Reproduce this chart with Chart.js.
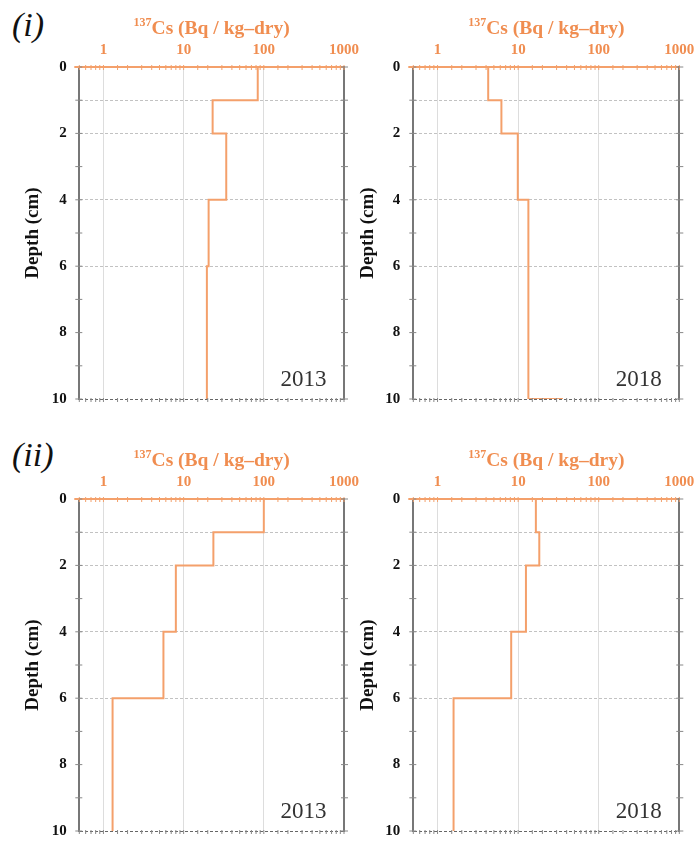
<!DOCTYPE html>
<html>
<head>
<meta charset="utf-8">
<script src="https://cdn.jsdelivr.net/npm/chart.js@4.4.1/dist/chart.umd.min.js"></script>
<style>
  html, body { margin: 0; padding: 0; background: #ffffff; }
  body { width: 697px; height: 841px; position: relative; overflow: hidden; }
  canvas { position: absolute; }
  .plabel { position: absolute; font-family: 'Liberation Serif', serif; font-style: italic; font-size: 34px; color: #111; line-height: 1; }
</style>
</head>
<body>
<div class="plabel" style="left:12px; top:8px;">(i)</div>
<div class="plabel" style="left:12px; top:438px;">(ii)</div>
<canvas id="c1" width="372" height="409" style="left:0px; top:0px;"></canvas>
<canvas id="c2" width="349" height="409" style="left:348px; top:0px;"></canvas>
<canvas id="c3" width="372" height="409" style="left:0px; top:432px;"></canvas>
<canvas id="c4" width="349" height="409" style="left:348px; top:432px;"></canvas>
<script>
// ---- data ----
const depthBounds = [0, 1, 2, 4, 6, 10];          // layer boundaries, cm
const cs137_i_2013  = [84, 23, 34, 20.5, 19.5];   // Bq/kg-dry per layer
const cs137_i_2018  = [4.25, 6.2, 9.9, 13.4, 13.4];
const cs137_i_2018_below = 36;                    // layer starting at 10 cm (only its top edge is visible)
const cs137_ii_2013 = [100, 23.5, 8.0, 5.6, 1.3];
const cs137_ii_2018 = [16.6, 18.3, 12.5, 8.2, 1.58];
const yearLabels = ['2013', '2018', '2013', '2018'];
const xTickLabels = [1, 10, 100, 1000];
const yTickLabels = [0, 2, 4, 6, 8, 10];
const yGridDepths = [1, 2, 4, 6];

const ORANGE_LINE = '#F4A06B';
const ORANGE_TEXT = '#F08D50';
const AXIS_GRAY = '#777777';
const SERIF = "'Liberation Serif', 'DejaVu Serif', serif";

function stepPoints(values, below) {
  const pts = [];
  values.forEach((v, i) => {
    pts.push({ x: v, y: depthBounds[i] });
    pts.push({ x: v, y: depthBounds[i + 1] });
  });
  if (below != null) pts.push({ x: below, y: depthBounds[depthBounds.length - 1] });
  return pts;
}

const decorPlugin = {
  id: 'decor',
  afterDraw(chart) {
    const { ctx, chartArea: { left, right, top, bottom }, scales: { x, y } } = chart;
    ctx.save();
    x.ticks.forEach(t => {
      const px = x.getPixelForValue(t.value);
      if (px < left - 0.5 || px > right + 0.5) return;
      ctx.strokeStyle = ORANGE_LINE; ctx.lineWidth = 1;
      ctx.beginPath(); ctx.moveTo(px, top - 2); ctx.lineTo(px, top + 3); ctx.stroke();
      ctx.strokeStyle = '#888'; ctx.lineWidth = 1;
      ctx.beginPath(); ctx.moveTo(px, bottom - 1); ctx.lineTo(px, bottom + 3); ctx.stroke();
    });
    y.ticks.forEach(t => {
      const py = y.getPixelForValue(t.value);
      ctx.strokeStyle = '#888'; ctx.lineWidth = 1;
      ctx.beginPath(); ctx.moveTo(left - 4, py); ctx.lineTo(left + 3, py); ctx.stroke();
      ctx.beginPath(); ctx.moveTo(right - 3, py); ctx.lineTo(right + 4, py); ctx.stroke();
    });
    ctx.strokeStyle = ORANGE_LINE; ctx.lineWidth = 2;
    ctx.beginPath(); ctx.moveTo(left - 5, top); ctx.lineTo(left, top); ctx.stroke();
    // axis title with superscript
    const main = 'Cs (Bq / kg\u2013dry)';
    const sup = '137';
    ctx.fillStyle = ORANGE_TEXT;
    ctx.textBaseline = 'alphabetic';
    ctx.font = 'bold 19.5px ' + SERIF;
    const wMain = ctx.measureText(main).width;
    ctx.font = 'bold 12px ' + SERIF;
    const wSup = ctx.measureText(sup).width;
    const cx = (left + right) / 2;
    const startX = cx - (wMain + wSup) / 2;
    const base = top - 33.5;
    ctx.textAlign = 'left';
    ctx.fillText(sup, startX, base - 7.5);
    ctx.font = 'bold 19.5px ' + SERIF;
    ctx.fillText(main, startX + wSup, base);
    // year label
    ctx.fillStyle = '#333333';
    ctx.font = '23px ' + SERIF;
    ctx.textAlign = 'right';
    ctx.fillText(chart.options.plugins.decor.year, right - 17.5, bottom - 13);
    ctx.restore();
  }
};

function makePanel(id, values, below, year, geom) {
  return new Chart(document.getElementById(id), {
    type: 'scatter',
    data: {
      datasets: [{
        data: stepPoints(values, below),
        showLine: true,
        borderColor: ORANGE_LINE,
        borderWidth: 2,
        pointRadius: 0,
        pointHoverRadius: 0,
        fill: false,
        tension: 0
      }]
    },
    plugins: [decorPlugin],
    options: {
      responsive: false,
      animation: false,
      events: [],
      layout: { padding: { left: 0, right: geom.padRight, top: 0, bottom: 10 } },
      plugins: {
        legend: { display: false },
        tooltip: { enabled: false },
        decor: { year: year }
      },
      scales: {
        x: {
          type: 'logarithmic',
          position: 'top',
          min: 0.5,
          max: 1000,
          afterFit: s => { s.height = 67; s.paddingLeft = 0; s.paddingRight = 0; },
          ticks: {
            autoSkip: false,
            maxRotation: 0,
            padding: 8,
            color: ORANGE_TEXT,
            font: { family: SERIF, size: 15, weight: 'bold' },
            callback: v => xTickLabels.includes(v) ? String(v) : ''
          },
          grid: {
            drawTicks: false,
            lineWidth: 1,
            color: c => (c.tick && [1, 10, 100].includes(c.tick.value)) ? '#dddddd' : 'rgba(0,0,0,0)'
          },
          border: { color: ORANGE_LINE, width: 2 }
        },
        y: {
          type: 'linear',
          position: 'left',
          reverse: true,
          min: 0,
          max: 10,
          afterFit: s => { s.width = geom.yWidth; s.paddingTop = 0; s.paddingBottom = 0; },
          ticks: {
            stepSize: 1,
            autoSkip: false,
            padding: geom.tickPad,
            color: '#111111',
            font: { family: SERIF, size: 15, weight: 'bold' },
            callback: v => yTickLabels.includes(v) ? String(v) : ''
          },
          grid: {
            drawTicks: false,
            lineWidth: 1,
            color: c => {
              const v = c.tick ? c.tick.value : null;
              if (yGridDepths.includes(v)) return '#c2c2c2';
              if (v === 10) return '#666666';
              return 'rgba(0,0,0,0)';
            }
          },
          border: { color: AXIS_GRAY, width: 2, dash: [3, 2] },
          title: {
            display: true,
            text: 'Depth (cm)',
            color: '#111111',
            font: { family: SERIF, size: 19, weight: 'bold' },
            padding: { top: geom.titlePad, bottom: 0 }
          }
        },
        y2: {
          type: 'linear',
          position: 'right',
          reverse: true,
          min: 0,
          max: 10,
          afterFit: s => { s.width = 0; s.paddingTop = 0; s.paddingBottom = 0; },
          ticks: { display: false },
          grid: { drawOnChartArea: false, drawTicks: false },
          border: { color: AXIS_GRAY, width: 2 }
        }
      }
    }
  });
}

const leftGeom  = { yWidth: 79.3, padRight: 28,   tickPad: 12.5, titlePad: 22 };
const rightGeom = { yWidth: 65.3, padRight: 17.7, tickPad: 13,   titlePad: 8.5 };

makePanel('c1', cs137_i_2013,  null,               yearLabels[0], leftGeom);
makePanel('c2', cs137_i_2018,  cs137_i_2018_below, yearLabels[1], rightGeom);
makePanel('c3', cs137_ii_2013, null,               yearLabels[2], leftGeom);
makePanel('c4', cs137_ii_2018, null,               yearLabels[3], rightGeom);
</script>
</body>
</html>
